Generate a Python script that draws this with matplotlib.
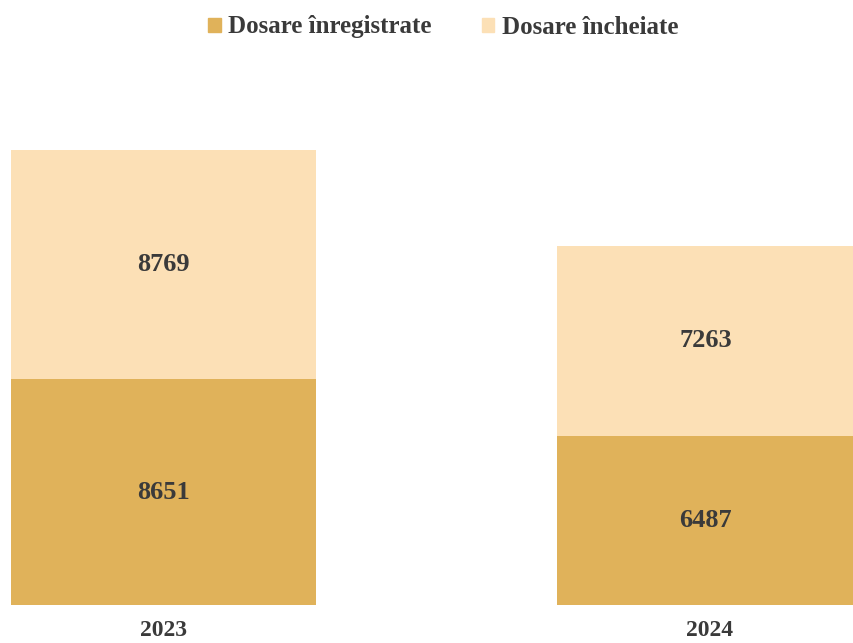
import matplotlib
matplotlib.use("Agg")
from matplotlib import pyplot as plt
from matplotlib.patches import Patch

# data
years       = ["2023", "2024"]
inregistrate = [8651, 6487]
incheiate    = [8769, 7263]

# colours
COL_BOTTOM = "#E0B25A"
COL_TOP    = "#FCE0B6"
COL_TEXT   = "#3a3a3a"

plt.rcParams["font.family"] = ["Liberation Serif", "DejaVu Serif"]

fig = plt.figure(figsize=(8.54, 6.43), dpi=100)
ax = fig.add_axes([0.0, 1 - 605 / 643, 1.0, 505 / 643])

x = [0, 1]
b1 = ax.bar(x, inregistrate, width=0.558, color=COL_BOTTOM)
b2 = ax.bar(x, incheiate, width=0.558, bottom=inregistrate, color=COL_TOP)

ax.bar_label(b1, label_type="center", fontsize=19, fontweight="bold", color=COL_TEXT)
ax.bar_label(b2, label_type="center", fontsize=19, fontweight="bold", color=COL_TEXT)

ax.set_xlim(-0.300, 1.265)
ax.set_ylim(0, 19350)
ax.set_xticks(x)
ax.set_xticklabels(years, fontsize=17, fontweight="bold", color=COL_TEXT)
ax.tick_params(axis="x", length=0, pad=11)
ax.set_yticks([])
for s in ax.spines.values():
    s.set_visible(False)

handles = [Patch(color=COL_BOTTOM, label="Dosare înregistrate"),
           Patch(color=COL_TOP, label="Dosare încheiate")]
leg = fig.legend(handles=handles, loc="center", bbox_to_anchor=(0.519, 1 - 27 / 643),
                 ncol=2, frameon=False, handlelength=0.5, handleheight=0.5,
                 handletextpad=0.3, columnspacing=2.0,
                 prop={"size": 18, "weight": "bold"})
for t in leg.get_texts():
    t.set_color(COL_TEXT)

fig.savefig("out.png", dpi=100)
